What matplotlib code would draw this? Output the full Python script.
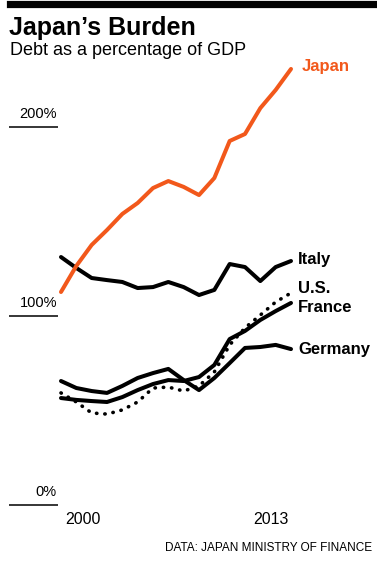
import matplotlib.pyplot as plt
from matplotlib.lines import Line2D

plt.rcParams['font.family'] = ['Liberation Sans', 'DejaVu Sans']

# data (percent of GDP)
years = list(range(1999, 2015))
japan = [112.7, 126.5, 137.6, 145.5, 154, 159.8, 167.7, 171.4, 168.3, 164, 173, 192.6, 196.3, 210, 219.6, 230.7]
italy = [131.2, 125.4, 120.1, 119, 118, 114.8, 115.3, 118, 115.3, 111.1, 113.8, 127.5, 125.9, 118.5, 125.9, 129.1]
us = [59.3, 54.5, 48.7, 48.1, 50.3, 54.5, 61.9, 62.4, 60.3, 63, 70.4, 84.7, 93.7, 100.5, 107.4, 112.2]
france = [56.6, 55.6, 55, 54.5, 57.1, 60.8, 64, 66.1, 65.6, 67.7, 74.1, 87.8, 92.1, 97.9, 102.6, 106.9]
germany = [65.6, 61.9, 60.3, 59.3, 63, 67.2, 69.8, 72, 66.1, 60.8, 67.2, 75.1, 83.1, 83.6, 84.7, 82.5]

yticks = [0, 100, 200]
ytick_labels = ['0%', '100%', '200%']
xlabels = ['2000', '2013']
xlabel_pos = [2000.45, 2012.7]

orange = '#F2581B'

W, H = 377, 568
fig = plt.figure(figsize=(W / 100, H / 100), dpi=100)
fig.patch.set_facecolor('white')

# axes: 1999 at px 61, 2014 at px 291; 0% at px 505, 200% at px 127
ax = fig.add_axes([61 / W, (H - 505) / H, 230 / W, 378 / H])
ax.set_xlim(1999, 2014)
ax.set_ylim(0, 200)
ax.axis('off')

lw = 2.9
ax.plot(years, germany, color='black', lw=lw, solid_capstyle='round', clip_on=False)
ax.plot(years, france, color='black', lw=lw, solid_capstyle='round', clip_on=False)
ax.plot(years, us, color='black', lw=2.6, linestyle=(0, (0.1, 2.2)), dash_capstyle='round', clip_on=False)
ax.plot(years, italy, color='black', lw=lw, solid_capstyle='round', clip_on=False)
ax.plot(years, japan, color=orange, lw=lw, solid_capstyle='round', clip_on=False)

# series labels at line ends
labels = [('Japan', japan, orange, 8, 1.5),
          ('Italy', italy, 'black', 5, 1),
          ('U.S.', us, 'black', 5, 3.5),
          ('France', france, 'black', 5, -3),
          ('Germany', germany, 'black', 5, 0)]
for name, vals, col, dx, dy in labels:
    ax.annotate(name, xy=(years[-1], vals[-1]), xytext=(dx, dy), textcoords='offset points',
                ha='left', va='center', fontsize=12, color=col, fontweight='bold', annotation_clip=False)

# y grid stubs on the left with labels above
x0 = 1999 - 52 / 15.33
x1 = 1999 - 3 / 15.33
ax.hlines(yticks, x0, x1, color='black', lw=1.1, clip_on=False)
for v, t in zip(yticks, ytick_labels):
    ax.annotate(t, xy=(1999 - 4 / 15.33, v), xytext=(0, 4), textcoords='offset points',
                ha='right', va='bottom', fontsize=10.5, annotation_clip=False)

for p, t in zip(xlabel_pos, xlabels):
    ax.annotate(t, xy=(p, 0), xytext=(0, -5), textcoords='offset points',
                ha='center', va='top', fontsize=11.5, annotation_clip=False)

# header
fig.add_artist(Line2D([10 / W, 373 / W], [1 - 3.5 / H, 1 - 3.5 / H], color='black', lw=5.2))
fig.text(9 / W, 1 - 35 / H, 'Japan\u2019s Burden', fontsize=18, fontweight='bold', va='baseline')
fig.text(10 / W, 1 - 55 / H, 'Debt as a percentage of GDP', fontsize=13, va='baseline')
fig.text(372 / W, 1 - 551 / H, 'DATA: JAPAN MINISTRY OF FINANCE', fontsize=8.5, va='baseline', ha='right')

fig.savefig('out.png', dpi=100)
